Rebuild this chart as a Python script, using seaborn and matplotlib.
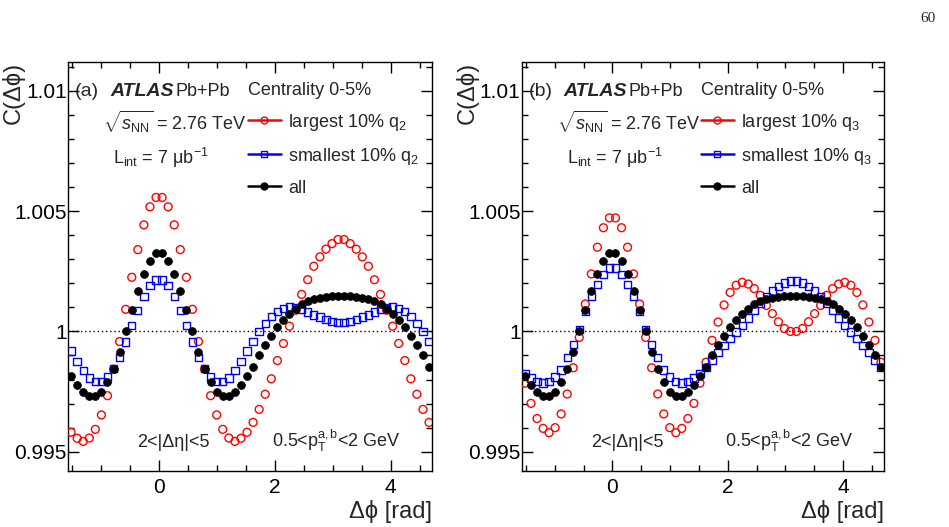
import numpy as np
import pandas as pd
import matplotlib
matplotlib.use("Agg")
import matplotlib.pyplot as plt
import seaborn as sns
from matplotlib.lines import Line2D
from matplotlib.ticker import MultipleLocator, FuncFormatter

sns.set_theme(style="ticks")
plt.rcParams['font.family'] = ['Liberation Sans', 'DejaVu Sans']
plt.rcParams['mathtext.fontset'] = 'custom'
plt.rcParams['mathtext.rm'] = 'Liberation Sans'
plt.rcParams['mathtext.it'] = 'Liberation Sans:italic'
plt.rcParams['mathtext.bf'] = 'Liberation Sans:bold'

# 60 bins in delta-phi from -pi/2 to 3pi/2 (bin centres)
edges = np.linspace(-np.pi / 2, 3 * np.pi / 2, 61)
dphi = 0.5 * (edges[:-1] + edges[1:])

# C(dphi) for all events (same in both panels)
c_all = [0.99814, 0.99776, 0.99747, 0.99733, 0.99731, 0.99750, 0.99788, 0.99843, 0.99914, 1.00000,
         1.00088, 1.00169, 1.00240, 1.00294, 1.00324, 1.00324, 1.00294, 1.00240, 1.00169, 1.00088,
         1.00000, 0.99914, 0.99843, 0.99788, 0.99750, 0.99731, 0.99733, 0.99747, 0.99776, 0.99814,
         0.99853, 0.99900, 0.99942, 0.99982, 1.00019, 1.00048, 1.00074, 1.00094, 1.00113, 1.00125,
         1.00134, 1.00140, 1.00144, 1.00147, 1.00149, 1.00149, 1.00147, 1.00144, 1.00140, 1.00134,
         1.00125, 1.00113, 1.00094, 1.00074, 1.00048, 1.00019, 0.99982, 0.99942, 0.99900, 0.99853]

# panel (a): q2 selection
q2_large = [0.99581, 0.99556, 0.99543, 0.99557, 0.99593, 0.99653, 0.99733, 0.99843, 0.99958, 1.00092,
            1.00225, 1.00340, 1.00443, 1.00518, 1.00557, 1.00557, 1.00518, 1.00443, 1.00340, 1.00225,
            1.00092, 0.99958, 0.99843, 0.99733, 0.99653, 0.99593, 0.99557, 0.99543, 0.99556, 0.99581,
            0.99622, 0.99676, 0.99739, 0.99803, 0.99879, 0.99950, 1.00022, 1.00088, 1.00154, 1.00215,
            1.00271, 1.00310, 1.00342, 1.00365, 1.00382, 1.00382, 1.00365, 1.00342, 1.00310, 1.00271,
            1.00215, 1.00154, 1.00088, 1.00022, 0.99950, 0.99879, 0.99803, 0.99739, 0.99676, 0.99622]
q2_small = [0.99919, 0.99876, 0.99838, 0.99807, 0.99792, 0.99792, 0.99810, 0.99847, 0.99893, 0.99956,
            1.00024, 1.00088, 1.00146, 1.00190, 1.00214, 1.00214, 1.00190, 1.00146, 1.00088, 1.00024,
            0.99956, 0.99893, 0.99847, 0.99810, 0.99792, 0.99792, 0.99807, 0.99838, 0.99876, 0.99919,
            0.99958, 1.00001, 1.00032, 1.00063, 1.00083, 1.00094, 1.00101, 1.00100, 1.00093, 1.00081,
            1.00069, 1.00060, 1.00050, 1.00042, 1.00036, 1.00036, 1.00042, 1.00050, 1.00060, 1.00069,
            1.00081, 1.00093, 1.00100, 1.00101, 1.00094, 1.00083, 1.00063, 1.00032, 1.00001, 0.99958]

# panel (b): q3 selection
q3_large = [0.99785, 0.99701, 0.99638, 0.99597, 0.99579, 0.99600, 0.99657, 0.99740, 0.99849, 0.99975,
            1.00114, 1.00239, 1.00350, 1.00431, 1.00472, 1.00472, 1.00431, 1.00350, 1.00239, 1.00114,
            0.99975, 0.99849, 0.99740, 0.99657, 0.99600, 0.99579, 0.99597, 0.99638, 0.99701, 0.99785,
            0.99872, 0.99963, 1.00039, 1.00110, 1.00162, 1.00192, 1.00204, 1.00197, 1.00178, 1.00150,
            1.00108, 1.00074, 1.00040, 1.00012, 1.00000, 1.00000, 1.00012, 1.00040, 1.00074, 1.00108,
            1.00150, 1.00178, 1.00197, 1.00204, 1.00192, 1.00162, 1.00110, 1.00039, 0.99963, 0.99872]
q3_small = [0.99824, 0.99806, 0.99792, 0.99786, 0.99792, 0.99810, 0.99840, 0.99892, 0.99946, 1.00007,
            1.00083, 1.00144, 1.00196, 1.00238, 1.00263, 1.00263, 1.00238, 1.00196, 1.00144, 1.00083,
            1.00007, 0.99946, 0.99892, 0.99840, 0.99810, 0.99792, 0.99786, 0.99792, 0.99806, 0.99824,
            0.99851, 0.99882, 0.99912, 0.99942, 0.99970, 0.99997, 1.00025, 1.00056, 1.00088, 1.00117,
            1.00143, 1.00168, 1.00188, 1.00201, 1.00210, 1.00210, 1.00201, 1.00188, 1.00168, 1.00143,
            1.00117, 1.00088, 1.00056, 1.00025, 0.99997, 0.99970, 0.99942, 0.99912, 0.99882, 0.99851]

panels = [
    ("(a)", "2", q2_large, q2_small),
    ("(b)", "3", q3_large, q3_small),
]

fig = plt.figure(figsize=(9.49, 5.27), dpi=100)
ax_pos = [[0.0717, 0.1063, 0.3836, 0.7761], [0.5500, 0.1063, 0.3815, 0.7761]]

FS_TICK = 15
FS_TXT = 13

for pos, (tag, n, large, small) in zip(ax_pos, panels):
    ax = fig.add_axes(pos)
    df = pd.DataFrame({"dphi": dphi, "large": large, "small": small, "all": c_all})

    ax.axhline(1.0, color="black", lw=1.0, ls=(0, (1, 2)), zorder=1)
    sns.scatterplot(data=df, x="dphi", y="large", ax=ax, marker="o", s=32,
                    facecolor="none", edgecolor="red", linewidth=1.0, zorder=3)
    sns.scatterplot(data=df, x="dphi", y="small", ax=ax, marker="s", s=28,
                    facecolor="none", edgecolor="blue", linewidth=1.0, zorder=4)
    sns.scatterplot(data=df, x="dphi", y="all", ax=ax, marker="o", s=32,
                    color="black", edgecolor="black", linewidth=0.5, zorder=5)

    ax.set_xlim(-np.pi / 2, 3 * np.pi / 2)
    ax.set_ylim(0.9942, 1.0112)
    ax.xaxis.set_major_locator(MultipleLocator(2))
    ax.xaxis.set_minor_locator(MultipleLocator(0.5))
    ax.yaxis.set_major_locator(MultipleLocator(0.005))
    ax.yaxis.set_minor_locator(MultipleLocator(0.001))
    ax.yaxis.set_major_formatter(FuncFormatter(lambda v, p: f"{v:g}"))
    ax.tick_params(which="both", direction="in", top=True, right=True, width=1.0,
                   labelsize=FS_TICK, colors="black")
    ax.tick_params(which="major", length=8)
    ax.tick_params(which="minor", length=4)
    ax.tick_params(axis="y", pad=1)
    ax.tick_params(axis="x", pad=5)
    for sp in ax.spines.values():
        sp.set_linewidth(1.0)
        sp.set_color("black")

    ax.set_xlabel("Δϕ [rad]", fontsize=17, loc="right")
    ax.xaxis.set_label_coords(1.0, -0.07)
    ax.set_ylabel("C(Δϕ)", fontsize=17, loc="top")
    ax.yaxis.set_label_coords(-0.118, 1.0)

    # labels
    ax.text(0.019, 0.917, tag, transform=ax.transAxes, fontsize=FS_TXT + 1, va="baseline")
    ax.text(0.115, 0.917, "ATLAS", transform=ax.transAxes, fontsize=FS_TXT + 1,
            fontweight="bold", fontstyle="italic", va="baseline")
    ax.text(0.295, 0.917, "Pb+Pb", transform=ax.transAxes, fontsize=FS_TXT, va="baseline")
    ax.text(0.096, 0.834, r"$\sqrt{s_{\rm NN}}$ = 2.76 TeV", transform=ax.transAxes,
            fontsize=FS_TXT, va="baseline")
    ax.text(0.124, 0.751, r"L$_{\rm int}$ = 7 μb$^{-1}$", transform=ax.transAxes,
            fontsize=FS_TXT, va="baseline")
    ax.text(0.190, 0.059, "2<|Δη|<5", transform=ax.transAxes, fontsize=FS_TXT, va="baseline")
    ax.text(0.560, 0.059, r"0.5<${\rm p}_{\rm T}^{\rm a,b}$<2 GeV", transform=ax.transAxes,
            fontsize=FS_TXT, va="baseline")

    handles = [
        Line2D([0], [0], color="red", lw=1.8, marker="o", mfc="none", mec="red", ms=5),
        Line2D([0], [0], color="blue", lw=1.8, marker="s", mfc="none", mec="blue", ms=4.5),
        Line2D([0], [0], color="black", lw=1.8, marker="o", mfc="black", mec="black", ms=5),
    ]
    labels = [f"largest 10% q$_{n}$", f"smallest 10% q$_{n}$", "all"]
    ax.legend(handles, labels, loc="upper left", bbox_to_anchor=(0.495, 0.952),
              frameon=False, fontsize=FS_TXT, title="Centrality 0-5%",
              title_fontsize=FS_TXT, alignment="left", handlelength=1.8,
              handletextpad=0.4, labelspacing=0.72, borderpad=0, borderaxespad=0)

fig.text(0.986, 0.977, "60", family="Liberation Serif", fontsize=11, ha="right", va="top")

fig.savefig("out.png", dpi=100)
